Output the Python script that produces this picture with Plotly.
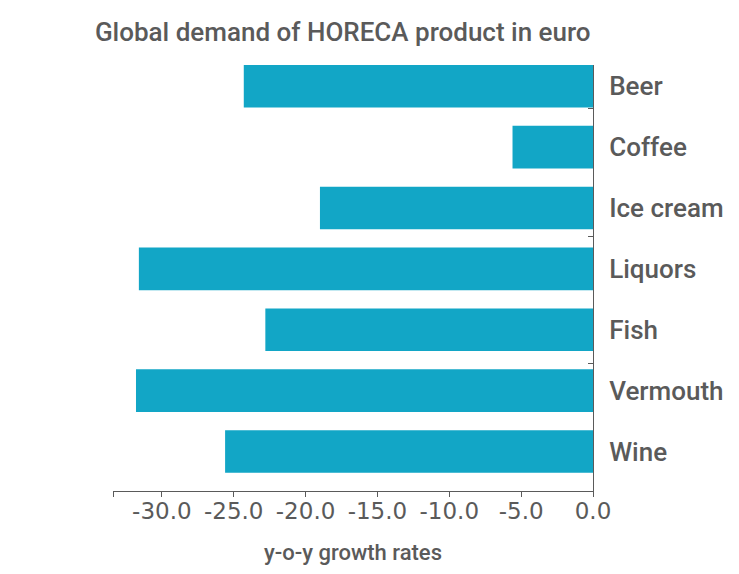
import plotly.graph_objects as go

categories = ["Beer", "Coffee", "Ice cream", "Liquors", "Fish", "Vermouth", "Wine"]
growth = [-24.3, -5.6, -19.0, -31.6, -22.8, -31.8, -25.6]
x_ticks = [-33.4, -30, -25, -20, -15, -10, -5, 0]
x_tick_labels = ["", "-30.0", "-25.0", "-20.0", "-15.0", "-10.0", "-5.0", "0.0"]
y_minor_ticks = [0.37, 2.47, 4.55]

GREY = "#5a5a5a"
BAR = "#12a6c6"
FONT = "Roboto"
TICKFONT = "DejaVu Sans"

fig = go.Figure()
fig.add_trace(go.Bar(
    x=growth, y=categories, orientation="h",
    marker=dict(color=BAR, line=dict(width=0)),
    width=0.7, hoverinfo="x+y",
))
# invisible helper trace for the secondary (tick-only) y axis
fig.add_trace(go.Scatter(x=[None], y=[None], yaxis="y2", showlegend=False,
                         hoverinfo="skip"))

fig.update_layout(
    width=739, height=574,
    margin=dict(l=105, r=154, t=57, b=91),
    plot_bgcolor="white", paper_bgcolor="white",
    showlegend=False,
    title=dict(text="Global demand of HORECA product in euro",
               x=0.453, xanchor="center", y=0.958, yanchor="middle",
               font=dict(family=FONT, size=26, color=GREY, weight=500)),
    xaxis=dict(
        range=[-33.4, 0], tickvals=x_ticks, ticktext=x_tick_labels,
        ticks="outside", ticklen=5, tickcolor=GREY, tickwidth=1,
        showline=True, linecolor=GREY, linewidth=1,
        showgrid=False, zeroline=False, ticklabelstandoff=-6,
        tickfont=dict(family=TICKFONT, size=23, color=GREY),
        title=dict(text="y-o-y growth rates", standoff=22,
                   font=dict(family=FONT, size=22, color=GREY, weight=500)),
    ),
    yaxis=dict(
        type="category", categoryorder="array", categoryarray=categories,
        range=[6.65, -0.35], side="right",
        showline=True, linecolor=GREY, linewidth=1, ticks="",
        showgrid=False, zeroline=False, ticklabelstandoff=10,
        tickfont=dict(family=FONT, size=26, color=GREY, weight=500),
    ),
    yaxis2=dict(
        overlaying="y", side="right", range=[6.65, -0.35],
        tickvals=y_minor_ticks, ticks="inside", ticklen=5, tickcolor=GREY,
        showticklabels=False, showgrid=False, zeroline=False, showline=False,
    ),
)

fig.write_html("out.html")
